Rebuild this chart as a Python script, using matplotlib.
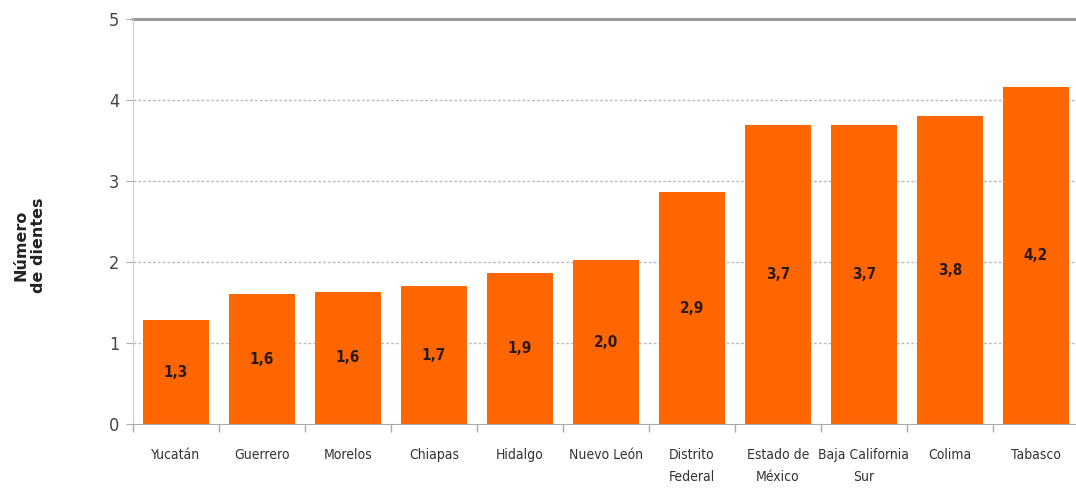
import numpy as np
import matplotlib.pyplot as plt

estados = ["Yucatán", "Guerrero", "Morelos", "Chiapas", "Hidalgo", "Nuevo León",
           "Distrito\nFederal", "Estado de\nMéxico", "Baja California\nSur",
           "Colima", "Tabasco"]
dientes = [1.28, 1.60, 1.63, 1.70, 1.86, 2.02, 2.86, 3.69, 3.69, 3.80, 4.16]

narrow = ["Liberation Sans Narrow", "DejaVu Sans"]

fig = plt.figure(figsize=(10.76, 4.91), dpi=100)
ax = fig.add_axes([0.1236, 0.1365, 0.8790, 0.8248])

x = np.arange(len(estados))
barras = ax.bar(x, dientes, width=0.77, color="#FF6600", zorder=2)

for xi, v in zip(x, dientes):
    ax.text(xi, v / 2, f"{v:.1f}".replace(".", ","), ha="center", va="center",
            fontsize=11, fontweight="bold", color="#2a1a10", family=narrow,
            stretch="condensed", zorder=3)

ax.set_xlim(-0.5, len(estados) - 0.5)
ax.set_ylim(0, 5)
ax.set_yticks(range(6))
ax.set_yticklabels([str(i) for i in range(6)], family=narrow, stretch="condensed",
                   fontsize=13, color="#444444")

ax.set_xticks(x)
ax.set_xticklabels(estados, family=narrow, stretch="condensed", fontsize=10,
                   color="#333333", linespacing=1.75)
ax.set_xticks(np.arange(-0.5, len(estados)), minor=True)
ax.tick_params(axis="x", which="major", length=0, pad=17)
ax.tick_params(axis="x", which="minor", length=6, color="#aaaaaa", width=1)
ax.tick_params(axis="y", length=5, color="#aaaaaa", pad=5)

# lineas guia punteadas y linea superior continua
for y in range(1, 5):
    ax.axhline(y, color="#bbbbbb", linestyle=(0, (2, 1.5)), linewidth=1, zorder=1)
ax.axhline(5, color="#999999", linewidth=2.2, zorder=1, clip_on=False)

for lado in ["top", "right"]:
    ax.spines[lado].set_visible(False)
ax.spines["left"].set_color("#cccccc")
ax.spines["bottom"].set_color("#aaaaaa")

fig.text(0.028, 0.50, "Número\nde dientes", rotation=90, ha="center", va="center",
         fontsize=11.5, fontweight="bold", color="#222222", family=["Verdana", "DejaVu Sans"])

fig.savefig("out.png", dpi=100)
